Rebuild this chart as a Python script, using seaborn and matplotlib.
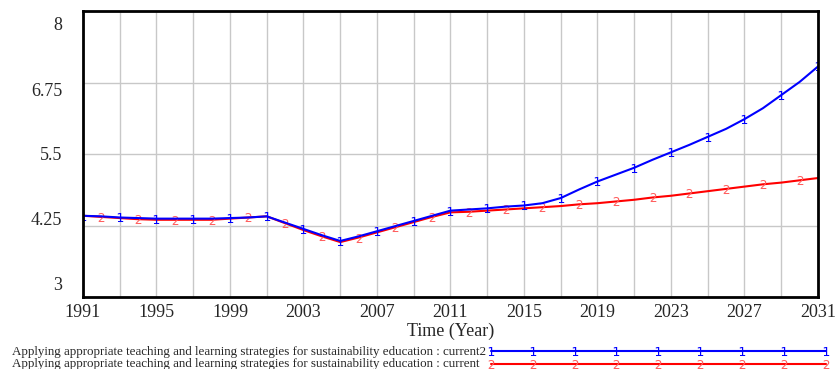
import pandas as pd
import seaborn as sns
import matplotlib.pyplot as plt
from matplotlib.lines import Line2D
from matplotlib.transforms import ScaledTranslation

# Dados (1991-2031, anual)
anos = list(range(1991, 2032))
current2 = [4.42, 4.41, 4.39, 4.38, 4.37, 4.37, 4.37, 4.37, 4.38, 4.39,
            4.41, 4.30, 4.19, 4.08, 3.98, 4.06, 4.15, 4.24, 4.33, 4.42,
            4.51, 4.53, 4.55, 4.58, 4.60, 4.64, 4.73, 4.88, 5.02, 5.14,
            5.26, 5.40, 5.53, 5.66, 5.80, 5.94, 6.11, 6.30, 6.53, 6.76,
            7.03]
current = [4.42, 4.40, 4.38, 4.36, 4.35, 4.35, 4.35, 4.35, 4.37, 4.39,
           4.41, 4.29, 4.17, 4.06, 3.96, 4.04, 4.13, 4.22, 4.31, 4.40,
           4.48, 4.49, 4.51, 4.53, 4.55, 4.57, 4.59, 4.62, 4.64, 4.67,
           4.70, 4.74, 4.77, 4.81, 4.85, 4.89, 4.93, 4.97, 5.00, 5.04,
           5.08]

yticks = [3, 4.25, 5.5, 6.75, 8]
ytick_labels = ['3', '4.25', '5.5', '6.75', '8']
xticks = list(range(1991, 2032, 4))

legenda = 'Applying appropriate teaching and learning strategies for sustainability education : '

df = pd.DataFrame({'Ano': anos, 'current2': current2, 'current': current})

azul = '#0000ff'
vermelho = '#ff0000'
rosa = '#ff6060'

sns.set_style('white')
plt.rcParams['font.family'] = ['Liberation Serif', 'DejaVu Serif']

fig = plt.figure(figsize=(8.35, 3.69), dpi=100)
ax = fig.add_axes([83 / 835, 1 - 297 / 369, 735 / 835, 286 / 369])

sns.lineplot(x='Ano', y='current', data=df, ax=ax, color=vermelho, linewidth=1.5,
             marker='$2$', markevery=(1, 2), markersize=6.5, mfc=rosa, mec=rosa, mew=0)
sns.lineplot(x='Ano', y='current2', data=df, ax=ax, color=azul, linewidth=1.5,
             marker='$1$', markevery=(0, 2), markersize=6.5, mfc=azul, mec=azul, mew=0)

ax.set_xlim(1991, 2031)
ax.set_ylim(3, 8)
ax.set_xticks(xticks)
ax.set_xticks(range(1991, 2032, 2), minor=True)
ax.set_yticks(yticks)
ax.set_yticklabels(ytick_labels)
ax.grid(True, which='both', color='#c8c8c8', linewidth=1)
ax.set_axisbelow(True)
ax.tick_params(axis='x', which='both', length=0, pad=5, labelsize=13)
ax.tick_params(axis='y', length=3, width=0.8, pad=12, labelsize=13)
for s in ax.spines.values():
    s.set_color('black')
    s.set_linewidth(2)

# rótulos do eixo y puxados para o centro, como no original
deslocamentos = [10, 5, 0, -5, -9]
for lab, d in zip(ax.get_yticklabels(), deslocamentos):
    lab.set_transform(lab.get_transform() + ScaledTranslation(0, d / 72, fig.dpi_scale_trans))

ax.set_xlabel('Time (Year)', fontsize=13, labelpad=1)
ax.set_ylabel('')

# legenda: texto à esquerda, linhas à direita
fig.text(12 / 835, 1 - 352 / 369, legenda + 'current2', fontsize=9.4, va='center', ha='left')
fig.text(12 / 835, 1 - 364 / 369, legenda + 'current', fontsize=9.4, va='center', ha='left')
handles = [Line2D([], [], color=azul, linewidth=1.5, marker='$1$', markersize=6.5, mfc=azul, mec=azul, mew=0),
           Line2D([], [], color=vermelho, linewidth=1.5, marker='$2$', markersize=6.5, mfc=rosa, mec=rosa, mew=0)]
fig.legend(handles, ['', ''], loc='lower left', bbox_to_anchor=(487 / 835, -2 / 369),
           fontsize=9, frameon=False, numpoints=9, handlelength=27.4,
           handletextpad=0, labelspacing=0.05, borderpad=0, borderaxespad=0)

plt.savefig('out.png', dpi=100)
